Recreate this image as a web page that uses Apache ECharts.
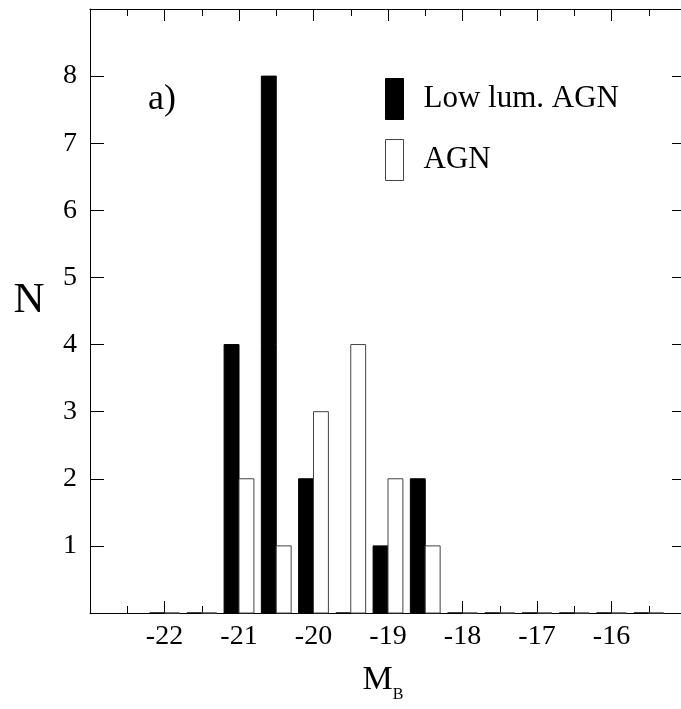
<!DOCTYPE html>
<html>
<head>
<meta charset="utf-8">
<script src="https://cdn.jsdelivr.net/npm/echarts@6/dist/echarts.min.js"></script>
<style>
  html, body { margin: 0; padding: 0; background: #fff; }
  #chart { width: 681px; height: 709px; }
</style>
</head>
<body>
<div id="chart"></div>
<script>
// ---- data ----
const binCenters = [-22, -21.5, -21, -20.5, -20, -19.5, -19, -18.5, -18, -17.5, -17, -16.5, -16, -15.5];
const lowLumAGN  = [0, 0, 4, 8, 2, 0, 1, 2, 0, 0, 0, 0, 0, 0];
const agn        = [0, 0, 2, 1, 3, 4, 2, 1, 0, 0, 0, 0, 0, 0];
const xTickLabels = ['-22', '-21', '-20', '-19', '-18', '-17', '-16'];
const yTickLabels = ['1', '2', '3', '4', '5', '6', '7', '8'];
const seriesNames = ['Low lum. AGN', 'AGN'];
const panelLabel = 'a)';
const yAxisTitle = 'N';

const FONT = 'Liberation Serif';
const BAR_W = 0.2;

function makeRender(side) {
  return function (params, api) {
    const x = api.value(0), y = api.value(1);
    const x0 = side < 0 ? x - BAR_W : x;
    const x1 = side < 0 ? x : x + BAR_W;
    const pTop = api.coord([x0, y]);
    const pBot = api.coord([x1, 0]);
    return {
      type: 'rect',
      shape: { x: pTop[0], y: pTop[1], width: pBot[0] - pTop[0], height: pBot[1] - pTop[1] },
      style: api.style()
    };
  };
}

const chart = echarts.init(document.getElementById('chart'), null, { renderer: 'canvas' });
const axisLine = { show: true, onZero: false, lineStyle: { color: '#000', width: 1 } };
const gridBox = { left: 90, top: 9, width: 596, height: 604, outerBoundsMode: 'none', containLabel: false };

function majorX(pos, labels) {
  return {
    type: 'value', gridIndex: 0, min: -23, max: -15, interval: 1,
    position: pos,
    axisLine: axisLine,
    axisTick: { show: true, inside: true, length: 12, lineStyle: { color: '#000' } },
    splitLine: { show: false },
    axisLabel: labels ? {
      margin: 10, fontFamily: FONT, fontSize: 28, color: '#000',
      formatter: v => { const s = String(v); return xTickLabels.includes(s) ? s : ''; }
    } : { show: false }
  };
}
function minorX(pos) {
  return {
    type: 'value', gridIndex: 1, min: -23, max: -15, interval: 0.5,
    position: pos,
    axisLine: { show: false, onZero: false },
    axisTick: { show: true, inside: true, length: 7, lineStyle: { color: '#000' } },
    splitLine: { show: false },
    axisLabel: { show: false }
  };
}

chart.setOption({
  animation: false,
  backgroundColor: '#fff',
  textStyle: { fontFamily: FONT },
  grid: [Object.assign({}, gridBox), Object.assign({}, gridBox)],
  legend: {
    orient: 'vertical',
    left: 385, top: 78, padding: 0,
    itemWidth: 18, itemHeight: 41, itemGap: 19,
    icon: 'rect',
    textStyle: { fontFamily: FONT, fontSize: 31, color: '#000', padding: [0, 0, 0, 15] },
    data: [
      { name: seriesNames[0], itemStyle: { color: '#000', borderColor: '#000', borderWidth: 1 } },
      { name: seriesNames[1], itemStyle: { color: '#fff', borderColor: '#444', borderWidth: 1 } }
    ]
  },
  graphic: [{
    type: 'text', left: 148, top: 82,
    style: { text: panelLabel, font: '36px "Liberation Serif"', fill: '#000' }
  }, {
    type: 'text', x: 29, y: 301,
    style: { text: yAxisTitle, font: '43px "Liberation Serif"', fill: '#000', align: 'center', verticalAlign: 'middle' }
  }],
  xAxis: [
    Object.assign(majorX('bottom', true), {
      name: '{m|M}{s|B}',
      nameLocation: 'middle', nameGap: 50,
      nameTextStyle: {
        padding: [0, 10, 0, 0],
        rich: {
          m: { fontFamily: FONT, fontSize: 34, color: '#000', verticalAlign: 'bottom' },
          s: { fontFamily: FONT, fontSize: 16, color: '#000', verticalAlign: 'bottom', padding: [0, 0, -6, 0] }
        }
      }
    }),
    majorX('top', false),
    minorX('bottom'),
    minorX('top')
  ],
  yAxis: [{
    type: 'value', gridIndex: 0, min: 0, max: 9, interval: 1,
    position: 'left',
    axisLine: axisLine,
    axisTick: { show: true, inside: true, length: 14, lineStyle: { color: '#000' } },
    splitLine: { show: false },
    axisLabel: {
      margin: 13, fontFamily: FONT, fontSize: 28, color: '#000',
      formatter: v => { const s = String(v); return yTickLabels.includes(s) ? s : ''; }
    }
  }, {
    type: 'value', gridIndex: 0, min: 0, max: 9, interval: 1,
    position: 'right',
    axisLine: axisLine,
    axisTick: { show: true, inside: true, length: 14, lineStyle: { color: '#000' } },
    splitLine: { show: false },
    axisLabel: { show: false }
  }, {
    type: 'value', gridIndex: 1, min: 0, max: 9, show: false
  }],
  series: [{
    name: seriesNames[0], type: 'custom', xAxisIndex: 0, yAxisIndex: 0,
    itemStyle: { color: '#000', borderColor: '#000', borderWidth: 1 },
    renderItem: makeRender(-1),
    encode: { x: 0, y: 1 },
    data: binCenters.map((c, i) => [c, lowLumAGN[i]])
  }, {
    name: seriesNames[1], type: 'custom', xAxisIndex: 0, yAxisIndex: 0,
    itemStyle: { color: '#fff', borderColor: '#444', borderWidth: 1 },
    renderItem: makeRender(1),
    encode: { x: 0, y: 1 },
    data: binCenters.map((c, i) => [c, agn[i]])
  }]
});
</script>
</body>
</html>
